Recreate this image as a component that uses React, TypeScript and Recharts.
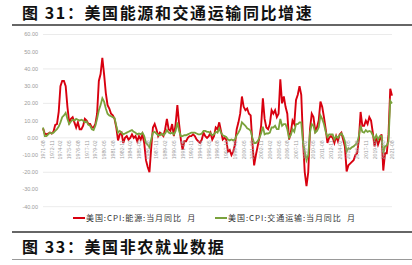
import { LineChart, Line, XAxis, YAxis, CartesianGrid } from 'recharts';

// quarterly sample months, 1971-08 .. 2021-08 (labels shown every 15 months)
const firstYear = 1971;
const lastYear = 2021;
const months = ['02', '05', '08', '11'];

// 美国:CPI:能源:当月同比 (%), one row per year: Feb, May, Aug, Nov
const energyYoY = [
  5.5, 2.5, // 1971 Aug, Nov
  2.0, 2.5, 3.0, 2.5,
  3.5, 7.5, 8.0, 15.0,
  30.0, 33.0, 33.0, 30.0,
  18.0, 9.0, 11.0, 12.0,
  9.0, 6.0, 9.0, 5.0,
  5.0, 7.0, 11.0, 10.0,
  8.0, 8.0, 6.0, 6.0,
  8.0, 14.0, 33.0, 37.0,
  46.5, 37.0, 26.0, 19.0,
  17.0, 14.0, 13.0, 11.0,
  6.0, -1.5, 2.0, 3.0,
  -3.0, 0.0, 1.0, -1.0,
  0.0, 2.0, 0.0, 1.0,
  -2.0, 1.0, -1.0, 2.0,
  -3.0, -13.0, -17.0, -20.0,
  -6.0, 6.0, 8.0, 5.0,
  1.0, 3.0, 2.0, 1.0,
  5.0, 11.0, 5.0, 4.0,
  8.0, 1.0, 8.0, 19.0,
  8.0, -1.0, -7.0, -2.0,
  -2.0, 0.0, 1.0, 1.0,
  2.0, 1.0, -1.0, -2.0,
  -3.0, -1.0, 3.0, 1.0,
  0.0, 1.0, 3.0, -1.0,
  1.0, 6.0, 5.0, 9.0,
  4.0, -1.0, 0.0, -1.0,
  -8.0, -7.0, -10.0, -8.0,
  -4.0, 5.0, 9.0, 14.0,
  24.0, 18.0, 16.0, 17.0,
  14.0, 13.0, -3.0, -16.0,
  -10.0, -5.0, 0.0, 7.0,
  23.0, 11.0, 6.0, 5.0,
  8.0, 16.0, 14.0, 16.0,
  12.0, 14.0, 34.0, 20.0,
  24.0, 18.0, 14.0, -1.0,
  3.0, 10.0, 8.0, 22.0,
  25.0, 30.0, 25.0, -1.0,
  -20.0, -28.0, -20.0, 5.0,
  14.0, 12.0, 4.0, 6.0,
  10.0, 21.0, 18.0, 12.0,
  5.0, -3.0, 0.0, 1.0,
  0.0, -3.0, 1.0, -2.0,
  2.0, 3.0, -1.0, -5.0,
  -19.5, -16.0, -15.0, -14.0,
  -13.0, -10.0, -9.0, -1.0,
  15.0, 7.0, 7.0, 10.0,
  8.0, 12.0, 10.0, 3.0,
  -5.0, 0.0, -4.0, -1.0,
  2.0, -19.0, -9.0, -9.0,
  2.0, 28.5, 24.5, // 2021 Feb, May, Aug
];

// 美国:CPI:交通运输:当月同比 (%)
const transportYoY = [
  6.0, 1.0,
  1.0, 2.0, 3.0, 2.5,
  3.0, 4.0, 5.0, 6.5,
  9.0, 12.0, 13.0, 14.5,
  11.0, 8.0, 9.5, 10.5,
  10.0, 11.0, 10.5, 10.0,
  10.5, 10.0, 9.0, 9.5,
  7.5, 7.0, 5.0, 4.5,
  7.0, 11.0, 16.0, 19.0,
  23.0, 21.0, 17.0, 14.0,
  13.0, 12.5, 12.0, 11.5,
  7.0, 3.0, 4.0, 3.0,
  2.0, 2.5, 3.0, 3.5,
  4.0, 4.5, 3.5, 3.0,
  2.0, 2.5, 2.0, 3.0,
  1.0, -3.0, -4.0, -5.5,
  -1.0, 3.0, 3.5, 2.5,
  1.5, 1.5, 2.5, 1.5,
  2.5, 4.5, 3.0, 2.5,
  3.0, 2.0, 4.0, 9.0,
  4.0, 1.0, 1.0, 1.5,
  1.5, 2.0, 2.5, 3.0,
  3.0, 3.0, 2.5, 2.0,
  2.0, 2.5, 4.0, 4.0,
  3.5, 3.5, 2.5, 1.5,
  2.0, 3.5, 3.0, 5.5,
  3.0, 1.5, 1.0, 0.5,
  -1.0, -1.5, -1.0, -1.5,
  -1.0, 1.5, 3.0, 5.0,
  9.0, 8.0, 7.0, 5.5,
  5.0, 4.0, 0.0, -3.0,
  -3.0, -2.0, 0.0, 2.5,
  6.5, 2.0, 2.5, 2.5,
  3.0, 6.0, 6.0, 7.0,
  5.0, 5.0, 11.0, 7.0,
  8.0, 8.0, 5.0, 0.0,
  1.5, 5.0, 3.5, 8.0,
  8.0, 9.0, 9.0, -3.0,
  -8.0, -13.0, -10.0, 3.0,
  8.0, 7.0, 3.0, 4.0,
  6.0, 13.0, 11.0, 8.0,
  3.5, 0.5, 2.0, 2.0,
  2.0, -1.0, 1.0, 0.0,
  1.5, 2.5, 1.0, -2.0,
  -8.0, -6.0, -6.5, -5.5,
  -5.0, -4.0, -3.0, 1.0,
  7.0, 3.5, 3.0, 4.5,
  3.5, 4.0, 3.5, 1.5,
  -1.0, 1.5, -1.0, 1.0,
  1.0, -9.0, -5.0, -4.5,
  -2.0, 21.5, 20.0,
];

const yTicks = [60, 50, 40, 30, 20, 10, 0, -10, -20, -30, -40];

const energyName = '美国:CPI:能源:当月同比  月';
const transportName = '美国:CPI:交通运输:当月同比  月';
const energyColor = '#d8000f';
const transportColor = '#7aa23c';

const dates: string[] = [];
for (let y = firstYear; y <= lastYear; y++) {
  for (const m of months) {
    if (y === firstYear && m < '08') continue;
    if (y === lastYear && m > '08') continue;
    dates.push(`${y}-${m}`);
  }
}

const data = dates.map((date, i) => ({
  date,
  energy: energyYoY[i],
  transport: transportYoY[i],
}));

const W = 412;
const H = 265;
const PLOT_TOP = 34.5;
const PLOT_BOTTOM = 206.7;
const Y_MAX = 60;
const Y_MIN = -40;
const ZERO_Y = PLOT_TOP + ((PLOT_BOTTOM - PLOT_TOP) * Y_MAX) / (Y_MAX - Y_MIN);

const tickFont = '"Liberation Sans", Arial, sans-serif';
const cjk = '"Noto Sans CJK SC", sans-serif';

// date labels sit on the zero line, rotated, like the original
function DateTick(props: any) {
  const { x, payload } = props;
  const y = ZERO_Y + 2.5;
  return (
    <text
      x={x}
      y={y}
      transform={`rotate(-90 ${x} ${y})`}
      textAnchor="end"
      dominantBaseline="central"
      fontSize={5.2}
      fontFamily={tickFont}
      fill="#a0a0a0"
    >
      {payload.value}
    </text>
  );
}

function LegendItem({ color, label }: { color: string; label: string }) {
  return (
    <div style={{ display: 'flex', alignItems: 'center' }}>
      <div style={{ width: 12, height: 2, background: color, marginRight: 1 }} />
      <span style={{ fontSize: 8, color: '#333', letterSpacing: 0.9, whiteSpace: 'pre' }}>{label}</span>
    </div>
  );
}

export default function App() {
  return (
    <div
      style={{
        position: 'absolute',
        left: 0,
        top: 0,
        width: W,
        height: H,
        background: '#fff',
        fontFamily: cjk,
        overflow: 'hidden',
      }}
    >
      <div
        style={{
          position: 'absolute',
          left: 22,
          top: 0,
          fontSize: 16,
          fontWeight: 700,
          letterSpacing: 1.6,
          color: '#111',
          whiteSpace: 'nowrap',
        }}
      >
        图 31：美国能源和交通运输同比增速
      </div>
      <div style={{ position: 'absolute', left: 12, top: 24, width: 400, height: 2, background: '#666' }} />

      <LineChart
        width={W}
        height={H}
        data={data}
        margin={{ top: PLOT_TOP, right: W - 392, bottom: H - PLOT_BOTTOM - 1, left: 0 }}
        style={{ position: 'absolute', left: 0, top: 0 }}
      >
        <CartesianGrid vertical={false} stroke="#e6e6e6" strokeWidth={0.8} />
        <XAxis
          dataKey="date"
          height={1}
          axisLine={false}
          tickLine={false}
          interval={4}
          tick={(p: any) => <DateTick {...p} />}
        />
        <YAxis
          width={43}
          domain={[Y_MIN, Y_MAX]}
          ticks={yTicks}
          axisLine={false}
          tickLine={false}
          tickSize={3}
          tickMargin={2}
          tickFormatter={(v: number) => v.toFixed(2)}
          tick={{ fontSize: 5.5, fill: '#9a9a9a', fontFamily: tickFont }}
        />
        <Line
          type="linear"
          dataKey="energy"
          stroke={energyColor}
          strokeWidth={1.9}
          dot={false}
          isAnimationActive={false}
        />
        <Line
          type="linear"
          dataKey="transport"
          stroke={transportColor}
          strokeWidth={1.8}
          dot={false}
          isAnimationActive={false}
        />
      </LineChart>

      <div style={{ position: 'absolute', left: 73, top: 212, display: 'flex' }}>
        <LegendItem color={energyColor} label={energyName} />
        <div style={{ width: 19 }} />
        <LegendItem color={transportColor} label={transportName} />
      </div>

      <div style={{ position: 'absolute', left: 12, top: 230.5, width: 400, height: 2, background: '#666' }} />
      <div
        style={{
          position: 'absolute',
          left: 22,
          top: 234,
          fontSize: 16,
          fontWeight: 700,
          letterSpacing: 1.6,
          color: '#111',
          whiteSpace: 'nowrap',
        }}
      >
        图 33：美国非农就业数据
      </div>
      <div style={{ position: 'absolute', left: 12, top: 259, width: 400, height: 1, background: '#999' }} />
    </div>
  );
}
